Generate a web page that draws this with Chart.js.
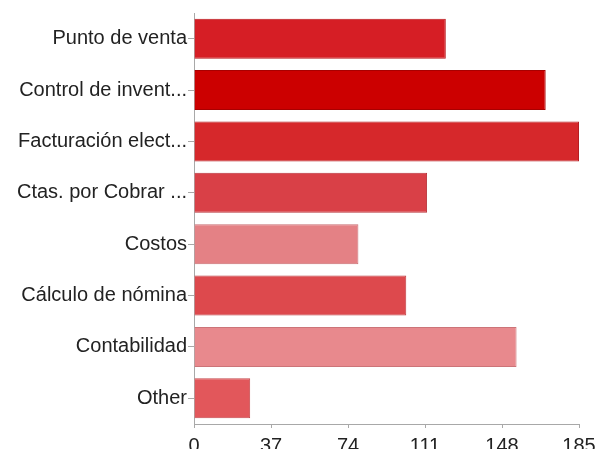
<!DOCTYPE html>
<html>
<head>
<meta charset="utf-8">
<script src="https://cdn.jsdelivr.net/npm/chart.js@4/dist/chart.umd.min.js"></script>
<style>
  html, body { margin: 0; padding: 0; background: #fff; }
  #wrap { width: 597px; height: 449px; }
</style>
</head>
<body>
<div id="wrap"><canvas id="barChart" width="597" height="449"></canvas></div>
<script>
// Categories as shown on the axis (long names are cut short)
const categories = [
    'Punto de venta',
    'Control de invent...',
    'Facturación elect...',
    'Ctas. por Cobrar ...',
    'Costos',
    'Cálculo de nómina',
    'Contabilidad',
    'Other'
];
const responses = [121, 169, 185, 112, 79, 102, 155, 27];
const xTicks = [0, 37, 74, 111, 148, 185];

const fillColors = ['#d61e25', '#cc0000', '#d6282b', '#d94047', '#e48185', '#dd494d', '#e8898d', '#e2575b'];
const edgeColors = ['#b8141a', '#a80000', '#b51e22', '#b8323a', '#c96d72', '#bd3a3e', '#cc7478', '#c4474b'];

const tickFont = { family: '"Liberation Sans", Arial, sans-serif', size: 20 };

document.addEventListener('DOMContentLoaded', function() {
    const ctx = document.getElementById('barChart').getContext('2d');
    new Chart(ctx, {
        type: 'bar',
        data: {
            labels: categories,
            datasets: [{
                data: responses,
                backgroundColor: fillColors,
                borderColor: edgeColors,
                borderWidth: 1,
                borderSkipped: 'start',
                barPercentage: 0.78,
                categoryPercentage: 1
            }]
        },
        options: {
            indexAxis: 'y',
            responsive: false,
            animation: false,
            layout: { padding: { top: 10, right: 0, left: 0, bottom: 0 } },
            plugins: {
                legend: { display: false },
                tooltip: { enabled: false }
            },
            scales: {
                x: {
                    min: 0,
                    max: 185,
                    afterBuildTicks: function(axis) {
                        axis.ticks = xTicks.map(v => ({ value: v }));
                    },
                    afterFit: function(axis) {
                        axis.height = 25;
                        axis.paddingRight = 18;
                    },
                    grid: { drawOnChartArea: false, tickLength: 4, color: '#a8a8a8' },
                    border: { color: '#a8a8a8' },
                    ticks: { color: '#222', font: tickFont, padding: 6, maxRotation: 0 }
                },
                y: {
                    afterFit: function(axis) { axis.width = 194; },
                    grid: { drawOnChartArea: false, tickLength: 6, color: '#a8a8a8', offset: false },
                    border: { color: '#a8a8a8' },
                    ticks: { color: '#222', font: tickFont, padding: 1 }
                }
            }
        }
    });
});
</script>
</body>
</html>
